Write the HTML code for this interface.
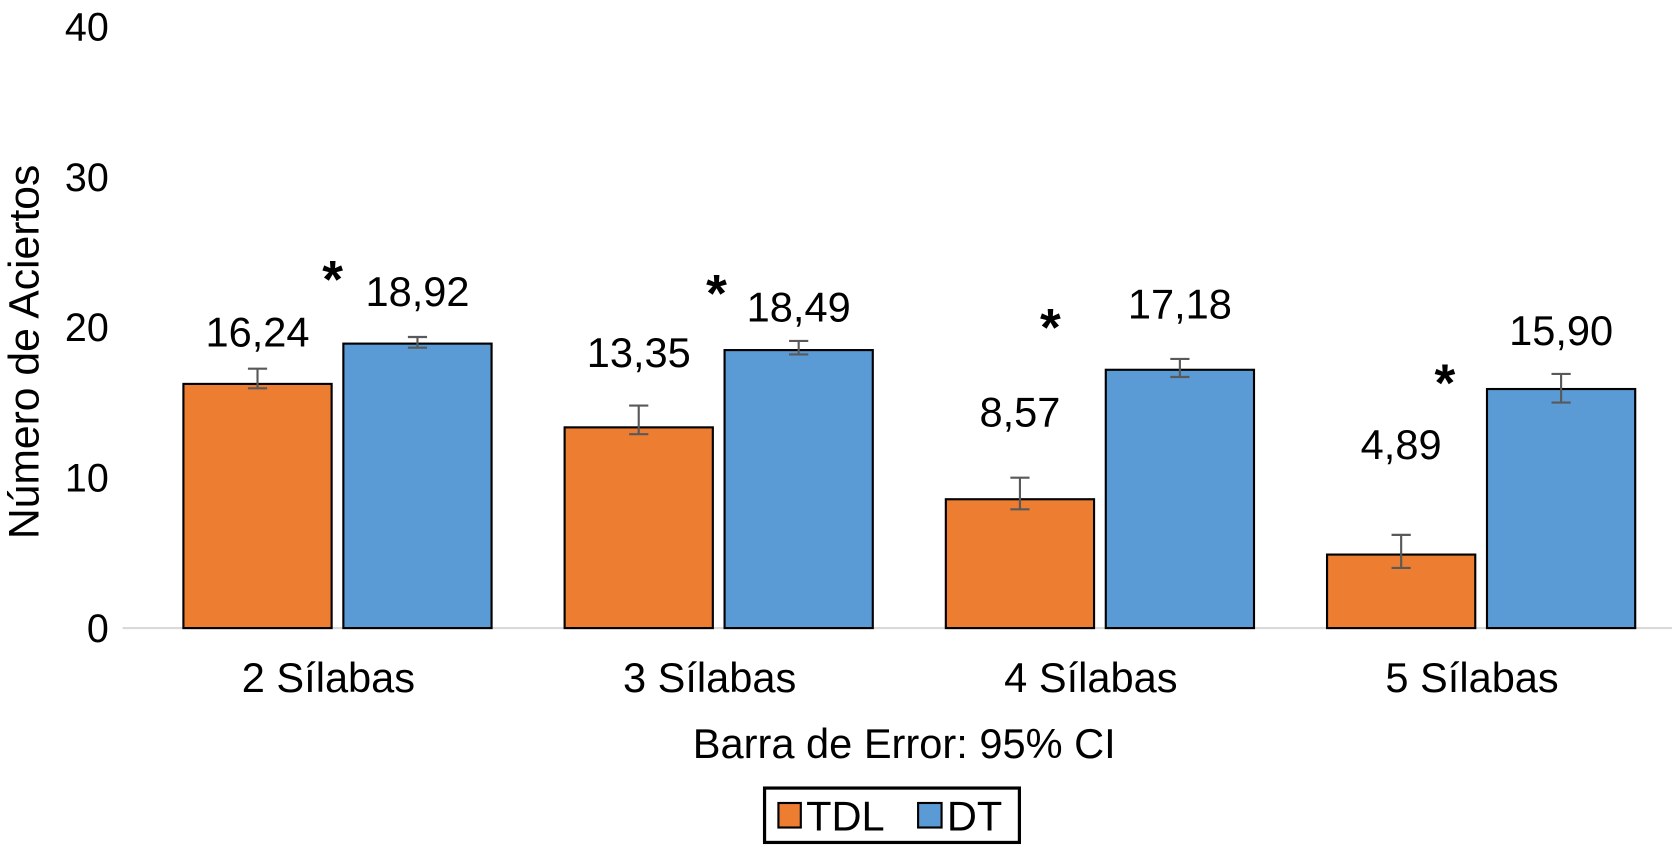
<!DOCTYPE html>
<html><head><meta charset="utf-8"><style>
body{margin:0;background:#fff;}
svg{display:block;font-family:"Liberation Sans",sans-serif;}
</style></head><body>
<svg id="chart" width="1672" height="845" viewBox="0 0 1568 792.4" preserveAspectRatio="none"></svg>
<script>
const categories=["2 Sílabas","3 Sílabas","4 Sílabas","5 Sílabas"];
const tdlValues=[16.24,13.35,8.57,4.89];
const dtValues=[18.92,18.49,17.18,15.90];
const tdlLow=[15.95,12.9,7.9,4.0];
const tdlHigh=[17.25,14.8,10.0,6.2];
const dtLow=[18.65,18.2,16.7,15.0];
const dtHigh=[19.36,19.1,17.9,16.9];
const tdlLabels=["16,24","13,35","8,57","4,89"];
const dtLabels=["18,92","18,49","17,18","15,90"];
const yTicks=[0,10,20,30,40];
const NS="http://www.w3.org/2000/svg";
const svg=document.getElementById('chart');
function y(v){return 589-v*14.1;}
function gx(i){return 172+i*357.5;}
function mk(t,a,txt){const e=document.createElementNS(NS,t);for(const k in a)e.setAttribute(k,a[k]);if(txt!==undefined)e.textContent=txt;svg.appendChild(e);return e;}
yTicks.forEach(t=>{const e=mk('text',{x:102,y:y(t)+13,'text-anchor':'end','font-size':37,fill:'#000'},t);

});
const yt=mk('text',{x:36,y:330,'text-anchor':'middle','font-size':40,transform:'rotate(-90 36 330)'},'Número de Aciertos');


const ax=mk('line',{x1:115,x2:1568,y1:589,y2:589,stroke:'#d9d9d9','stroke-width':2});


const tdlNudge=[0,-15,-27,-50];const dtNudge=[-8,3,-17,-6];
const starY=[255,268,300,352];const starX=[312,672,985,1355];
categories.forEach((c,i)=>{
 const x0=gx(i);
 [[tdlValues,tdlLow,tdlHigh,tdlLabels,'#ed7d31',0,tdlNudge,'tdl'],[dtValues,dtLow,dtHigh,dtLabels,'#5b9bd5',150,dtNudge,'dt']].forEach(s=>{
  const [vals,lo,hi,lab,col,off,nud,nm]=s;const bx=x0+off;
  const r=mk('rect',{x:bx,y:y(vals[i]),width:139,height:589-y(vals[i]),fill:col,stroke:'#000','stroke-width':2});
  
  
  const cx=bx+69.5;
  const g=mk('path',{d:`M${cx} ${y(hi[i])}V${y(lo[i])}M${cx-9} ${y(hi[i])}H${cx+9}M${cx-9} ${y(lo[i])}H${cx+9}`,stroke:'#595959','stroke-width':2,fill:'none'});
  
  
  const t=mk('text',{x:cx,y:y(hi[i])-21+nud[i],'text-anchor':'middle','font-size':39},lab[i]);
  
  
 });
 const st=mk('text',{x:starX[i],y:starY[i]+24,'text-anchor':'middle','font-size':50,'font-weight':'bold'},'*');
 
 
 const cl=mk('text',{x:x0+136,y:649,'text-anchor':'middle','font-size':39},c);
 
 
});
const xt=mk('text',{x:848,y:711,'text-anchor':'middle','font-size':39},'Barra de Error: 95% CI');


const lg=mk('rect',{x:717,y:739,width:239,height:51,fill:'#fff',stroke:'#000','stroke-width':3});


const l1=mk('rect',{x:730,y:753,width:21,height:23,fill:'#ed7d31',stroke:'#000','stroke-width':2});


const l1t=mk('text',{x:756,y:779,'font-size':39},'TDL');


const l2=mk('rect',{x:861,y:753,width:22,height:23,fill:'#5b9bd5',stroke:'#000','stroke-width':2});


const l2t=mk('text',{x:888,y:779,'font-size':39},'DT');


</script>
</body></html>
